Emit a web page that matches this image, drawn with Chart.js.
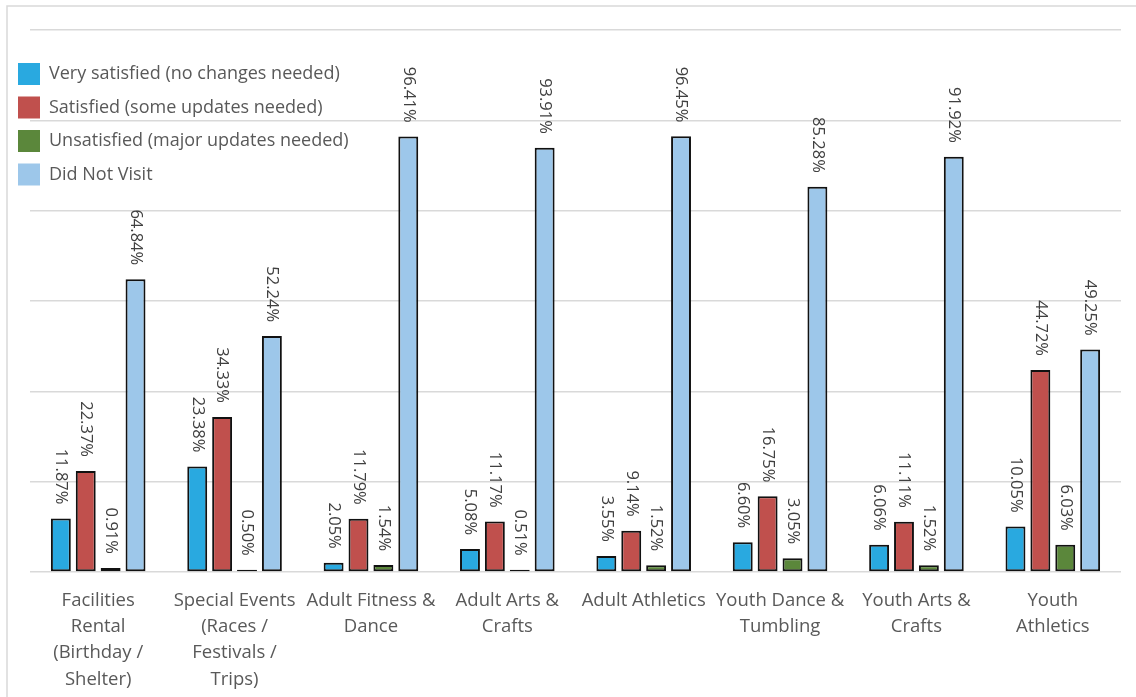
<!DOCTYPE html>
<html>
<head>
<meta charset="utf-8">
<script src="https://cdn.jsdelivr.net/npm/chart.js@4/dist/chart.umd.min.js"></script>
<style>
  html, body { margin: 0; padding: 0; background: #fff; }
  #wrap { position: relative; width: 1136px; height: 697px; }
</style>
</head>
<body>
<div id="wrap"><canvas id="myChart" width="1136" height="697"></canvas></div>
<script>
const categories = [
   ['Facilities', 'Rental', '(Birthday /', 'Shelter)'],
   ['Special Events', '(Races /', 'Festivals /', 'Trips)'],
   ['Adult Fitness &', 'Dance'],
   ['Adult Arts &', 'Crafts'],
   ['Adult Athletics'],
   ['Youth Dance &', 'Tumbling'],
   ['Youth Arts &', 'Crafts'],
   ['Youth', 'Athletics']
];

const seriesNames = [
   'Very satisfied (no changes needed)',
   'Satisfied (some updates needed)',
   'Unsatisfied (major updates needed)',
   'Did Not Visit'
];

const verySatisfied = [11.87, 23.38, 2.05, 5.08, 3.55, 6.60, 6.06, 10.05];
const satisfied = [22.37, 34.33, 11.79, 11.17, 9.14, 16.75, 11.11, 44.72];
const unsatisfied = [0.91, 0.50, 1.54, 0.51, 1.52, 3.05, 1.52, 6.03];
const didNotVisit = [64.84, 52.24, 96.41, 93.91, 96.45, 85.28, 91.92, 49.25];

const colors = ['#29A9E0', '#C0504D', '#5B873B', '#9DC7EA'];
const FONT = '"Open Sans", sans-serif';

// value labels, rotated to read top-down, sitting above each bar
const barLabels = {
   id: 'barLabels',
   afterDatasetsDraw(chart) {
      const ctx = chart.ctx;
      ctx.save();
      ctx.font = '16.5px ' + FONT;
      ctx.fillStyle = '#404040';
      ctx.textAlign = 'right';
      ctx.textBaseline = 'middle';
      chart.data.datasets.forEach((ds, i) => {
         chart.getDatasetMeta(i).data.forEach((bar, j) => {
            ctx.save();
            ctx.translate(bar.x, bar.y - 14);
            ctx.rotate(Math.PI / 2);
            ctx.fillText(ds.data[j].toFixed(2) + '%', 0, 0);
            ctx.restore();
         });
      });
      ctx.restore();
   }
};

// legend stacked in the top-left corner of the plot
const cornerLegend = {
   id: 'cornerLegend',
   afterDraw(chart) {
      const ctx = chart.ctx;
      ctx.save();
      ctx.font = '18px ' + FONT;
      ctx.textBaseline = 'middle';
      chart.data.datasets.forEach((ds, i) => {
         const cy = 74 + i * 33.5;
         ctx.fillStyle = ds.backgroundColor;
         ctx.fillRect(18, cy - 11, 22, 22);
         ctx.fillStyle = '#595959';
         ctx.fillText(ds.label, 49, cy);
      });
      ctx.restore();
   }
};

const outerFrame = {
   id: 'outerFrame',
   beforeDraw(chart) {
      const ctx = chart.ctx;
      ctx.save();
      ctx.strokeStyle = '#d9d9d9';
      ctx.lineWidth = 1.5;
      ctx.strokeRect(7, 6, 1150, 720);
      ctx.restore();
   }
};

const values = [verySatisfied, satisfied, unsatisfied, didNotVisit];

const ctx = document.getElementById('myChart').getContext('2d');
const myChart = new Chart(ctx, {
   type: 'bar',
   data: {
      labels: categories,
      datasets: values.map((v, i) => ({
         label: seriesNames[i],
         data: v,
         backgroundColor: colors[i],
         borderColor: '#111',
         borderWidth: 2,
         borderSkipped: false,
         categoryPercentage: 0.73,
         barPercentage: 0.8
      }))
   },
   options: {
      responsive: false,
      animation: false,
      layout: { padding: { left: 30, right: 15, top: 30, bottom: 0 } },
      plugins: {
         legend: { display: false },
         tooltip: { enabled: false }
      },
      scales: {
         x: {
            grid: { display: false },
            border: { display: false },
            ticks: {
               color: '#595959',
               font: { family: FONT, size: 18.5, lineHeight: 1.41 },
               padding: 8,
               maxRotation: 0,
               autoSkip: false
            },
            afterFit(scale) { scale.height = 125; }
         },
         y: {
            min: 0,
            max: 120,
            ticks: { display: false, stepSize: 20 },
            grid: { color: '#d9d9d9', lineWidth: 1.5, drawTicks: false },
            border: { display: false },
            afterFit(scale) { scale.width = 0; }
         }
      }
   },
   plugins: [outerFrame, barLabels, cornerLegend]
});
</script>
</body>
</html>
